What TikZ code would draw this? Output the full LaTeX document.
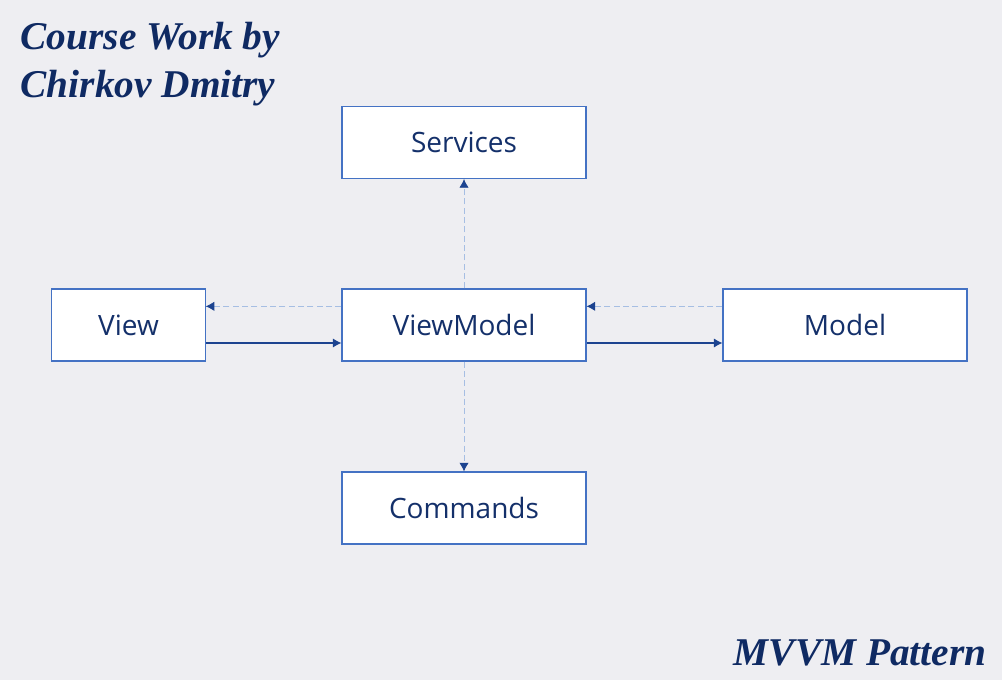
\documentclass[tikz,border=0pt]{standalone}
\usepackage{fontspec}
\setmainfont{Liberation Serif}
\newfontfamily\boxfont{Open Sans}
\usetikzlibrary{arrows.meta}

\definecolor{bgcol}{HTML}{EEEEF2}
\definecolor{boxline}{HTML}{4472C4}
\definecolor{navy}{HTML}{0F2A63}
\definecolor{arrowcol}{HTML}{1C4390}
\definecolor{textnavy}{HTML}{14306A}
\definecolor{dashcol}{HTML}{A6BEE3}

\tikzset{
  block/.style={draw=boxline, fill=white, line width=0.8pt,
    minimum height=54pt, text=textnavy, font=\boxfont\fontsize{21}{24}\selectfont},
  wideblock/.style={block, minimum width=183pt},
  smallblock/.style={block, minimum width=115pt},
  call/.style={draw=arrowcol, line width=0.8pt, -{Latex[length=6.5pt,width=7pt]}},
  notify/.style={draw=dashcol, line width=0.6pt, dash pattern=on 4.5pt off 2.5pt,
    -{Latex[length=6.5pt,width=7pt,color=arrowcol]}},
  caption/.style={text=navy, font=\fontsize{29.5}{36}\selectfont\bfseries\itshape}
}

\begin{document}
\begin{tikzpicture}[x=0.75pt,y=-0.75pt]

  % background
  \fill[bgcol] (0,0) rectangle (1002,680);
  \useasboundingbox (0,0) rectangle (1002,680);

  % titles
  \node[caption, anchor=west, align=left] (title) at (16,64) {Course Work by\\ Chirkov Dmitry};
  \node[caption, anchor=east] (pattern) at (991,653) {MVVM Pattern};

  % boxes
  \node[wideblock] (vm) at (464,325) {ViewModel};
  \node[wideblock] (services) at (464,142.5) {Services};
  \node[wideblock] (commands) at (464,508) {Commands};
  \node[smallblock] (view) at (128.5,325) {View};
  \node[wideblock] (model) at (845,325) {Model};

  % View <-> ViewModel
  \draw[notify] ([yshift=14pt]vm.west) -- ([yshift=14pt]view.east);
  \draw[call] ([yshift=-13.5pt]view.east) -- ([yshift=-13.5pt]vm.west);

  % ViewModel <-> Model
  \draw[notify] ([yshift=14pt]model.west) -- ([yshift=14pt]vm.east);
  \draw[call] ([yshift=-13.5pt]vm.east) -- ([yshift=-13.5pt]model.west);

  % ViewModel -> Services, Commands
  \draw[notify] (vm.north) -- (services.south);
  \draw[notify] (vm.south) -- (commands.north);

\end{tikzpicture}
\end{document}
